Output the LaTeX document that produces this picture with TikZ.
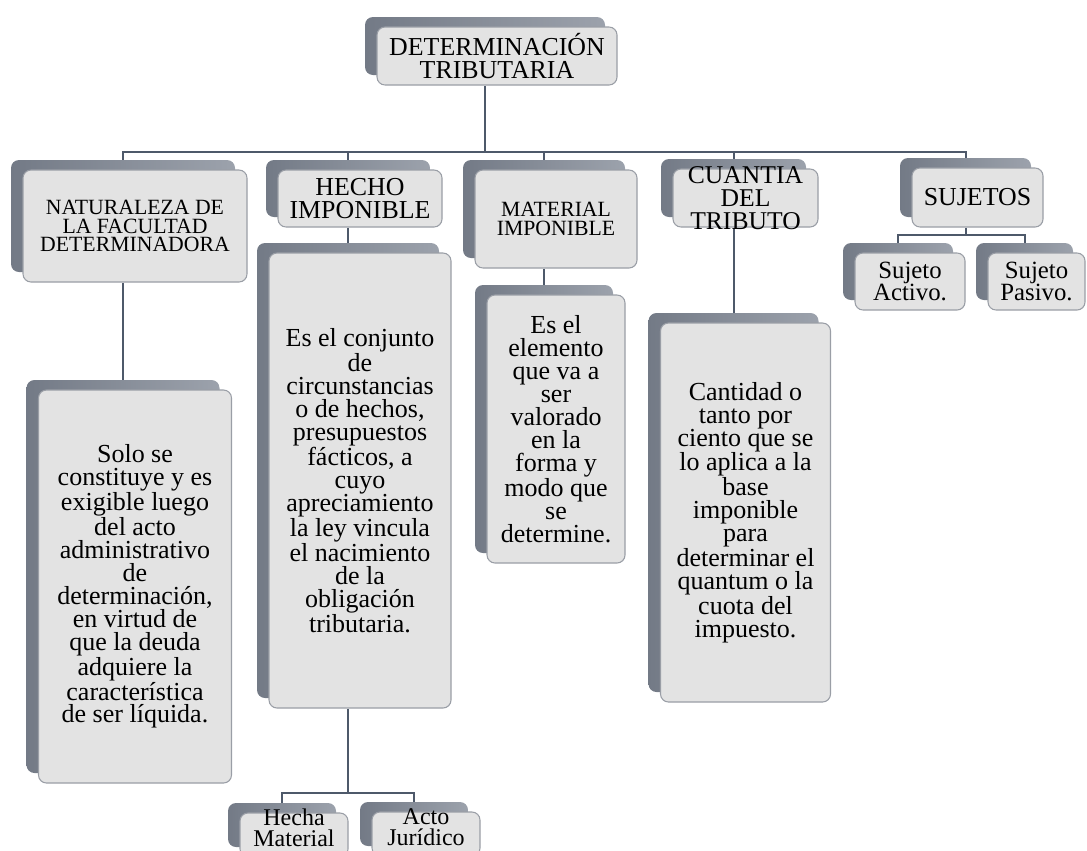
\documentclass[tikz,border=0pt]{standalone}
\usepackage{fontspec}
\setmainfont{Liberation Serif}
\usetikzlibrary{shadows,backgrounds}
\definecolor{cardfill}{HTML}{E3E3E3}
\definecolor{cardedge}{HTML}{9A9EA6}
\definecolor{backdark}{HTML}{737A86}
\definecolor{backlight}{HTML}{9CA2AC}
\definecolor{linkgray}{HTML}{4E596A}

\begin{document}
\begin{tikzpicture}[
    x=0.75pt, y=-0.75pt,
    sz/.style 2 args={minimum width=#1*0.75pt, minimum height=#2*0.75pt},
    card/.style={rounded corners=6pt, draw=cardedge, line width=0.8pt, fill=cardfill,
                 align=center, inner sep=0pt, text=black,
                 general shadow={shadow xshift=-9pt, shadow yshift=7.5pt,
                                 left color=backdark, right color=backlight}},
    big/.style={card, font=\fontsize{19.4}{17}\selectfont},
    small/.style={card, font=\fontsize{16.3}{14}\selectfont},
    desc/.style={card, font=\fontsize{19.5}{17.2}\selectfont},
    leaf/.style={card, font=\fontsize{18.6}{16.5}\selectfont},
    overtext/.style={align=center, inner sep=0pt, font=\fontsize{19.2}{17}\selectfont},
    leaftext/.style={overtext, font=\fontsize{18}{16}\selectfont},
    link/.style={draw=linkgray, line width=1.5pt},
  ]
  \useasboundingbox (0,0) rectangle (1087,850);

  % top
  \node[big, sz={240}{58}] (top) at (497,56) {DETERMINACIÓN\\TRIBUTARIA};

  % first level
  \node[small, sz={224}{112}] (nat) at (135,226) {NATURALEZA DE\\LA FACULTAD\\DETERMINADORA};
  \node[big, sz={164}{57}] (hecho) at (360,198.5) {HECHO\\IMPONIBLE};
  \node[small, sz={162}{98}] (mat) at (556,219) {MATERIAL\\IMPONIBLE};
  \node[card, sz={145}{58}] (cuan) at (745.5,198) {};
  \node[overtext] (cuantxt) at (cuan) {CUANTIA\\DEL\\TRIBUTO};
  \node[big, sz={131}{59}] (suj) at (977.5,197.5) {SUJETOS};

  % descriptions
  \node[desc, sz={193}{393}] (natd) at (135,586.5) {Solo se\\constituye y es\\exigible luego\\del acto\\administrativo\\de\\determinación,\\en virtud de\\que la deuda\\adquiere la\\característica\\de ser líquida.};
  \node[desc, sz={182}{455}] (hechod) at (360,480.5) {Es el conjunto\\de\\circunstancias\\o de hechos,\\presupuestos\\fácticos, a\\cuyo\\apreciamiento\\la ley vincula\\el nacimiento\\de la\\obligación\\tributaria.};
  \node[desc, sz={138}{268}] (matd) at (556,429) {Es el\\elemento\\que va a\\ser\\valorado\\en la\\forma y\\modo que\\se\\determine.};
  \node[desc, sz={170}{379}] (cuand) at (745.5,512.5) {Cantidad o\\tanto por\\ciento que se\\lo aplica a la\\base\\imponible\\para\\determinar el\\quantum o la\\cuota del\\impuesto.};

  % leaves
  \node[card, sz={108}{44}] (hecha) at (294,835) {};
  \node[leaftext] (hechatxt) at (294,828) {Hecha\\Material};
  \node[card, sz={108}{44}] (acto) at (426,834) {};
  \node[leaftext] (actotxt) at (426,827) {Acto\\Jurídico};
  \node[leaf, sz={110}{57}] (activo) at (910,281.5) {Sujeto\\Activo.};
  \node[leaf, sz={97}{57}] (pasivo) at (1036.5,281.5) {Sujeto\\Pasivo.};

  \coordinate (bus) at (485,152);
  \coordinate (hsplit) at (348,793);
  \coordinate (ssplit) at (965.5,235);

  % tree lines, behind the cards
  \begin{scope}[on background layer]
    \draw[link] ([xshift=-9pt]top.south) -- (bus);
    \draw[link] ([xshift=-9pt]nat.north) |- (bus) -| ([xshift=-9pt]suj.north);
    \draw[link] ([xshift=-9pt]hecho.north) |- (bus);
    \draw[link] ([xshift=-9pt]mat.north) |- (bus);
    \draw[link] ([xshift=-9pt]cuan.north) |- (bus);
    \draw[link] ([xshift=-9pt]nat.south) -- ([xshift=-9pt]natd.north);
    \draw[link] ([xshift=-9pt]hecho.south) -- ([xshift=-9pt]hechod.north);
    \draw[link] ([xshift=-9pt]mat.south) -- ([xshift=-9pt]matd.north);
    \draw[link] ([xshift=-9pt]cuan.south) -- ([xshift=-9pt]cuand.north);
    \draw[link] ([xshift=-9pt]hechod.south) -- (hsplit);
    \draw[link] ([xshift=-9pt]hecha.north) |- (hsplit) -| ([xshift=-9pt]acto.north);
    \draw[link] ([xshift=-9pt]suj.south) -- (ssplit);
    \draw[link] ([xshift=-9pt]activo.north) |- (ssplit) -| ([xshift=-9pt]pasivo.north);
  \end{scope}
\end{tikzpicture}
\end{document}
